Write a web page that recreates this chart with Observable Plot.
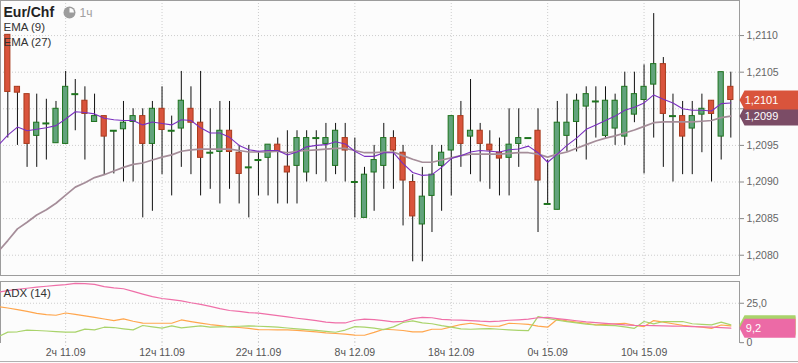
<!DOCTYPE html>
<html><head><meta charset="utf-8">
<script src="https://cdn.jsdelivr.net/npm/d3@7"></script>
<script src="https://cdn.jsdelivr.net/npm/@observablehq/plot@0.6"></script>
<style>
html,body{margin:0;padding:0;background:#fcfcfc;}
#wrap{position:relative;width:798px;height:363px;background:#fcfcfc;overflow:hidden;font-family:"Liberation Sans",Arial,sans-serif;}
#wrap svg{position:absolute;left:0;}
#bottomline{position:absolute;left:0;top:361px;width:798px;height:1px;background:#b0b0b0;}
</style></head>
<body><div id="wrap"><div id="bottomline"></div></div>
<script>
// ---- data ----
const xTickIndex = [6, 16, 26, 36, 46, 56, 66];
const xTickLabels = ["2ч 11.09", "12ч 11.09", "22ч 11.09", "8ч 12.09", "18ч 12.09", "0ч 15.09", "10ч 15.09"];
const priceTicks = [1.2080, 1.2085, 1.2090, 1.2095, 1.2100, 1.2105, 1.2110];
const adxTicks = [0, 25];

const opens = [1.21101,1.21030,1.21020,1.20963,1.20980,1.20953,1.20952,1.21020,1.21011,1.20982,
1.20990,1.20970,1.20972,1.20982,1.20990,1.20952,1.21000,1.20970,1.20973,1.21000,
1.20981,1.20940,1.20941,1.20970,1.20940,1.20920,1.20930,1.20933,1.20951,1.20921,
1.20922,1.20913,1.20960,1.20952,1.20922,1.20960,1.20900,1.20851,1.20913,1.20922,
1.20960,1.20940,1.20900,1.20842,1.20881,1.20922,1.20943,1.20990,1.20962,1.20970,
1.20951,1.20940,1.20933,1.20952,1.20960,1.20970,1.20870,1.20862,1.20963,1.20982,
1.21003,1.21010,1.20963,1.20973,1.20962,1.20992,1.21012,1.21033,1.21061,1.20990,
1.20990,1.20973,1.20992,1.21011,1.20962,1.21030];
const highs = [1.21101,1.21030,1.21020,1.21020,1.21013,1.21010,1.21051,1.21040,1.21030,1.21020,
1.20990,1.20970,1.21010,1.21000,1.21000,1.21010,1.21030,1.20990,1.21051,1.21030,
1.21051,1.21000,1.21010,1.21010,1.20950,1.20950,1.20940,1.20951,1.20960,1.20970,
1.20970,1.20970,1.20970,1.20980,1.20980,1.20980,1.20960,1.20920,1.20950,1.20980,
1.20970,1.20950,1.20910,1.20920,1.20950,1.20950,1.20990,1.21010,1.21040,1.20980,
1.20970,1.20960,1.21000,1.21000,1.20960,1.21000,1.20930,1.21010,1.21020,1.21020,
1.21030,1.21030,1.21030,1.21020,1.21050,1.21050,1.21060,1.21130,1.21070,1.21020,
1.21010,1.21010,1.21020,1.21011,1.21050,1.21050];
const lows = [1.20960,1.20950,1.20920,1.20920,1.20930,1.20953,1.20952,1.20970,1.20930,1.20982,
1.20910,1.20911,1.20900,1.20900,1.20851,1.20860,1.20910,1.20881,1.20920,1.20910,
1.20881,1.20890,1.20870,1.20890,1.20870,1.20851,1.20881,1.20881,1.20870,1.20870,
1.20870,1.20900,1.20910,1.20900,1.20910,1.20900,1.20851,1.20851,1.20860,1.20890,
1.20890,1.20840,1.20791,1.20791,1.20831,1.20860,1.20881,1.20920,1.20910,1.20900,
1.20890,1.20881,1.20881,1.20920,1.20960,1.20831,1.20870,1.20862,1.20941,1.20941,
1.20930,1.20960,1.20960,1.20950,1.20950,1.20981,1.20911,1.20960,1.20920,1.20900,
1.20910,1.20910,1.20940,1.20900,1.20930,1.20960];
const closes = [1.21023,1.21022,1.20952,1.20981,1.20980,1.21000,1.21030,1.21020,1.20993,1.20990,
1.20962,1.20970,1.20981,1.20990,1.20952,1.21000,1.20971,1.20970,1.21011,1.20981,
1.20933,1.20940,1.20970,1.20941,1.20911,1.20920,1.20930,1.20951,1.20942,1.20913,
1.20960,1.20960,1.20960,1.20960,1.20970,1.20943,1.20900,1.20910,1.20930,1.20960,
1.20943,1.20902,1.20853,1.20880,1.20910,1.20940,1.20990,1.20952,1.20970,1.20952,
1.20943,1.20932,1.20951,1.20960,1.20960,1.20902,1.20870,1.20981,1.20981,1.21011,
1.21020,1.21010,1.21011,1.21011,1.21030,1.21020,1.21030,1.21061,1.20993,1.20990,
1.20962,1.20990,1.21000,1.20993,1.21050,1.21012];

// line series: first value is the one at the left edge (previous hour), then one per candle
const ema9 = [1.20950,
1.20964,1.20975,1.20970,1.20972,1.20974,1.20977,1.20986,1.20996,1.20995,1.20993,
1.20987,1.20985,1.20984,1.20984,1.20978,1.20982,1.20980,1.20978,1.20985,1.20984,
1.20974,1.20967,1.20967,1.20961,1.20950,1.20944,1.20942,1.20943,1.20943,1.20937,
1.20941,1.20948,1.20950,1.20951,1.20955,1.20952,1.20942,1.20935,1.20935,1.20940,
1.20940,1.20925,1.20913,1.20909,1.20910,1.20920,1.20932,1.20936,1.20941,1.20943,
1.20942,1.20941,1.20944,1.20945,1.20949,1.20940,1.20927,1.20938,1.20950,1.20960,
1.20972,1.20978,1.20984,1.20990,1.20998,1.21002,1.21008,1.21019,1.21013,1.21008,
1.21000,1.20998,1.20998,1.20997,1.21007,1.21008];
const ema27 = [1.20805,
1.20820,1.20836,1.20845,1.20855,1.20862,1.20871,1.20882,1.20893,1.20899,1.20906,
1.20910,1.20915,1.20920,1.20924,1.20926,1.20930,1.20934,1.20937,1.20942,1.20944,
1.20945,1.20945,1.20945,1.20945,1.20943,1.20941,1.20941,1.20941,1.20942,1.20940,
1.20942,1.20943,1.20944,1.20945,1.20946,1.20946,1.20943,1.20940,1.20940,1.20941,
1.20941,1.20936,1.20931,1.20927,1.20927,1.20930,1.20933,1.20936,1.20938,1.20938,
1.20938,1.20938,1.20939,1.20940,1.20940,1.20938,1.20934,1.20938,1.20941,1.20946,
1.20951,1.20956,1.20960,1.20963,1.20967,1.20971,1.20976,1.20981,1.20982,1.20982,
1.20982,1.20982,1.20983,1.20984,1.20988,1.20990];
const adx = [32.0,
33.0,33.8,34.5,35.2,35.8,36.3,36.8,37.6,37.4,37.0,
35.6,34.8,34.2,32.5,30.8,29.2,28.0,27.3,26.5,25.3,
24.3,23.0,21.6,20.4,19.8,19.1,18.7,18.0,17.1,16.3,
15.5,14.8,14.0,13.0,12.5,12.5,14.2,14.9,14.6,14.0,
13.2,13.5,15.2,16.0,15.8,14.8,14.4,14.3,14.0,13.6,
13.4,13.6,14.2,14.5,14.9,15.8,16.0,15.3,14.6,13.9,
13.2,12.7,12.2,11.8,11.3,11.0,10.9,10.8,10.7,10.5,
10.4,10.2,10.0,9.8,9.5,9.2];
const diMinus = [22.8,
22.0,21.0,19.8,18.6,17.8,17.4,18.8,18.0,17.0,16.0,
15.0,14.0,15.1,13.6,12.4,12.3,12.3,12.3,14.4,13.4,
12.4,11.5,10.8,10.0,9.6,9.0,8.3,8.2,8.1,8.1,
7.8,7.3,6.8,6.2,5.8,5.4,4.8,4.7,6.5,8.5,
8.2,7.7,6.8,6.8,8.5,8.5,10.0,11.5,12.3,11.4,
10.4,10.5,12.3,12.0,11.6,10.5,9.8,14.8,13.8,13.0,
12.3,11.3,11.6,12.0,12.3,11.0,10.2,14.0,13.0,12.0,
11.0,10.4,9.8,9.1,11.2,10.6];
const diPlus = [3.7,
6.7,6.9,8.0,7.7,7.4,7.0,6.7,6.7,8.6,8.1,
9.8,9.6,8.8,8.1,10.9,10.0,9.2,10.6,9.4,10.0,
10.6,9.8,10.0,10.2,10.4,10.6,10.4,10.2,9.8,9.3,
8.8,8.3,7.8,7.2,6.6,8.0,10.2,9.8,9.2,8.3,
10.0,12.8,13.8,12.6,12.0,10.8,9.8,8.8,8.5,8.7,
8.9,8.5,8.1,7.8,7.6,16.5,15.4,14.2,13.4,12.6,
11.8,11.2,11.0,10.8,10.0,9.1,13.4,11.9,13.4,13.4,
13.4,12.0,11.6,11.3,13.0,11.3];

// ---- build ----
const candles = opens.map((o, i) => ({i, open: o, high: highs[i], low: lows[i], close: closes[i]}));
const bodies = candles.filter(d => d.open !== d.close);
const dojis = candles.filter(d => d.open === d.close);
const lineRows = ema9.map((v, k) => ({i: k - 1, ema9: v, ema27: ema27[k]}));
const adxRows = adx.map((v, k) => ({i: k - 1, adx: v, dip: diPlus[k], dim: diMinus[k]}));

const priceFmt = d => d.toFixed(4).replace(".", ",");
const adxFmt = d => d === 0 ? "0" : d.toFixed(1).replace(".", ",");
const xFmt = d => xTickLabels[xTickIndex.indexOf(d)];

const GREEN = "#62a37c", GREEN_S = "#1d731d", RED = "#d9543c", RED_S = "#a83a1c";
const GRID = {stroke: "#cdcdcd", strokeDasharray: "1,2"};
const FONT = "Liberation Sans, Arial, sans-serif";

function tag(w, h) {
  return {draw(ctx) {
    ctx.moveTo(0, 0); ctx.lineTo(5, -h / 2); ctx.lineTo(w, -h / 2);
    ctx.lineTo(w, h / 2); ctx.lineTo(5, h / 2); ctx.closePath();
  }};
}
const wedge = {draw(ctx) { ctx.moveTo(0, 0); ctx.lineTo(0, -4.5); ctx.arc(0, 0, 4.5, -Math.PI / 2, 0); ctx.closePath(); }};

const xDomain = [-0.757, 75.9];
const lastClose = closes[closes.length - 1];
const lastE27 = ema27[ema27.length - 1];
const TAGTXT = {frameAnchor: "right", textAnchor: "middle", fill: "#fff", fontSize: 11};

const main = Plot.plot({
  width: 798, height: 277,
  marginLeft: 0, marginRight: 59, marginTop: 0, marginBottom: 2,
  style: {background: "transparent", fontFamily: FONT, overflow: "hidden"},
  x: {domain: xDomain, axis: null, label: null},
  y: {domain: [1.207723, 1.211479], axis: null, label: null},
  marks: [
    Plot.ruleY(priceTicks, GRID),
    Plot.ruleX(xTickIndex, GRID),
    Plot.frame({stroke: "#9c9c9c"}),
    Plot.ruleX(candles, {x: "i", y1: "low", y2: "high", stroke: "#111"}),
    Plot.rect(bodies, {x1: d => d.i - 0.27, x2: d => d.i + 0.27, y1: "open", y2: "close",
      fill: d => d.close > d.open ? GREEN : RED, stroke: d => d.close > d.open ? GREEN_S : RED_S, strokeWidth: 1}),
    Plot.ruleY(dojis, {y: "close", x1: d => d.i - 0.36, x2: d => d.i + 0.36, stroke: GREEN_S, strokeWidth: 2}),
    Plot.line(lineRows, {x: "i", y: "ema27", stroke: "#a58d99", strokeWidth: 1.7, clip: true}),
    Plot.line(lineRows, {x: "i", y: "ema9", stroke: "#7a2fbf", strokeWidth: 1.1, clip: true}),
    Plot.axisY({anchor: "right", ticks: priceTicks, tickFormat: priceFmt, tickSize: 4, tickPadding: 3,
      fontSize: 10.5, stroke: "#888", fill: "#666", label: null}),
    Plot.dot([lastE27], {y: d => d, frameAnchor: "right", symbol: tag(60, 19), fill: "#7b4c66", r: 5}),
    Plot.text([lastE27], {y: d => d, dx: 22, text: priceFmt, ...TAGTXT}),
    Plot.dot([lastClose], {y: d => d, frameAnchor: "right", symbol: tag(60, 19), fill: RED, r: 5}),
    Plot.text([lastClose], {y: d => d, dx: 22, text: priceFmt, ...TAGTXT}),
    Plot.text(["Eur/Chf"], {frameAnchor: "top-left", dx: 3, dy: 16.5, lineAnchor: "bottom", textAnchor: "start",
      fontWeight: "bold", fontSize: 14, fill: "#222"}),
    Plot.dot(["clock"], {frameAnchor: "top-left", dx: 69, dy: 12, r: 6, fill: "#9c9c9c"}),
    Plot.dot(["clock"], {frameAnchor: "top-left", dx: 69, dy: 12, r: 4, symbol: wedge, fill: "#fcfcfc"}),
    Plot.text(["1ч"], {frameAnchor: "top-left", dx: 79, dy: 16.5, lineAnchor: "bottom", textAnchor: "start",
      fontSize: 12, fill: "#a0a0a0"}),
    Plot.text(["EMA (9)"], {frameAnchor: "top-left", dx: 3, dy: 30, lineAnchor: "bottom", textAnchor: "start",
      fontSize: 11.5, fill: "#333"}),
    Plot.text(["EMA (27)"], {frameAnchor: "top-left", dx: 3, dy: 45, lineAnchor: "bottom", textAnchor: "start",
      fontSize: 11.5, fill: "#333"})
  ]
});
main.style.top = "0px";

const lastAdx = adx[adx.length - 1], lastDip = diPlus[diPlus.length - 1], lastDim = diMinus[diMinus.length - 1];
const lower = Plot.plot({
  width: 798, height: 86,
  marginLeft: 0, marginRight: 59, marginTop: 5, marginBottom: 20,
  style: {background: "transparent", fontFamily: FONT, overflow: "hidden"},
  x: {domain: xDomain, label: null},
  y: {domain: [0.1, 38.8], label: null},
  marks: [
    Plot.ruleY([25], GRID),
    Plot.ruleX(xTickIndex, GRID),
    Plot.frame({anchor: "top", stroke: "#9c9c9c"}),
    Plot.frame({anchor: "left", stroke: "#9c9c9c"}),
    Plot.frame({anchor: "right", stroke: "#9c9c9c"}),
    Plot.line(adxRows, {x: "i", y: "dim", stroke: "#ffa64d", strokeWidth: 1.2, clip: true}),
    Plot.line(adxRows, {x: "i", y: "dip", stroke: "#a9d36b", strokeWidth: 1.2, clip: true}),
    Plot.line(adxRows, {x: "i", y: "adx", stroke: "#ef6fa8", strokeWidth: 1.2, clip: true}),
    Plot.axisY({anchor: "right", ticks: adxTicks, tickFormat: adxFmt, tickSize: 4, tickPadding: 3,
      fontSize: 10.5, stroke: "#888", fill: "#666", label: null}),
    Plot.axisX({ticks: xTickIndex, tickFormat: xFmt, tickSize: 5, tickPadding: 1,
      fontSize: 10.5, stroke: "#cdcdcd", strokeDasharray: "1,2", fill: "#555", label: null}),
    Plot.dot([lastDim], {y: d => d, frameAnchor: "right", symbol: tag(56, 19), fill: "#ffa64d", r: 5}),
    Plot.dot([lastDip], {y: d => d, frameAnchor: "right", symbol: tag(56, 19), fill: "#a9d36b", r: 5}),
    Plot.dot([lastAdx], {y: d => d, frameAnchor: "right", symbol: tag(56, 19), fill: "#ec6aa6", r: 5}),
    Plot.text([lastAdx], {y: d => d, dx: 14, text: adxFmt, ...TAGTXT}),
    Plot.text(["ADX (14)"], {frameAnchor: "top-left", dx: 3, dy: 15, lineAnchor: "bottom", textAnchor: "start",
      fontSize: 11.5, fill: "#333"})
  ]
});
lower.style.top = "276px";

const wrap = document.getElementById("wrap");
wrap.appendChild(main);
wrap.appendChild(lower);
</script>
</body></html>
